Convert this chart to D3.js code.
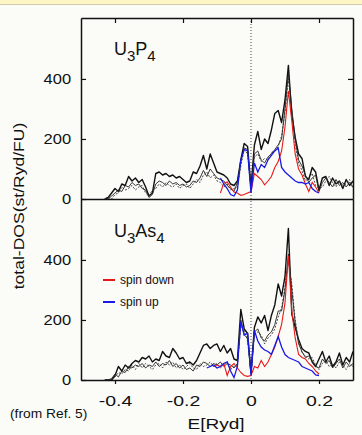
<!DOCTYPE html>
<html>
<head>
<meta charset="utf-8">
<script src="https://cdn.jsdelivr.net/npm/d3@7"></script>
<style>
  body { margin: 0; background: #fbfcf8; }
  svg { display: block; font-family: "Liberation Sans", Arial, Helvetica, sans-serif; }
</style>
</head>
<body>
<div id="chart"></div>
<script>
// energy grid (Ryd) for the total DOS curves
const energy = [-0.43,-0.42,-0.41,-0.40,-0.39,-0.38,-0.37,-0.36,-0.35,-0.34,
  -0.33,-0.32,-0.31,-0.30,-0.29,-0.28,-0.27,-0.26,-0.25,-0.24,
  -0.23,-0.22,-0.21,-0.20,-0.19,-0.18,-0.17,-0.16,-0.15,-0.14,
  -0.13,-0.12,-0.11,-0.10,-0.09,-0.08,-0.07,-0.06,-0.05,-0.04,
  -0.03,-0.02,-0.01,0.00,0.01,0.02,0.03,0.04,0.05,0.06,
  0.07,0.08,0.09,0.10,0.11,0.12,0.13,0.14,0.15,0.16,
  0.17,0.18,0.19,0.20,0.21,0.22,0.23,0.24,0.25,0.26,
  0.27,0.28,0.29,0.30];

// U3P4 totals (three black curves)
const p4TotalA = [0,5,20,35,25,50,45,75,60,70, 55,65,40,10,20,85,90,80,85,75,
  80,70,75,65,55,60,90,85,110,145, 100,150,120,90,85,80,70,50,45,60,
  130,185,175,40,180,225,165,200,185,230, 285,295,255,330,445,280,205,150,135,75,
  65,105,90,30,70,75,45,70,50,60, 35,65,45,60];
const p4TotalB = [0,0,10,20,30,25,45,40,55,45, 50,35,30,5,15,50,60,55,45,60,
  50,55,45,50,40,45,60,55,70,95, 75,100,85,70,65,60,45,35,25,55,
  125,170,165,35,150,160,130,120,140,150, 165,180,200,300,420,300,200,130,110,80,
  55,70,80,25,55,70,55,40,65,45, 55,40,55,40];
const p4TotalC = [0,5,0,15,20,40,30,35,45,30, 40,45,20,10,30,35,50,40,55,45,
  40,50,35,45,50,35,50,65,55,80, 90,70,80,60,55,40,50,30,35,40,
  110,165,150,30,140,150,125,135,130,155, 160,175,210,290,400,290,180,120,95,60,
  70,85,45,35,40,60,75,55,40,60, 45,50,65,35];

// U3As4 totals
const as4TotalA = [0,0,0,15,45,30,50,40,55,65, 60,75,70,80,60,70,65,95,80,75,
  105,90,70,75,55,60,50,65,90,115, 120,105,115,120,95,115,90,105,70,65,
  235,170,155,25,175,210,190,215,165,215, 250,320,280,345,505,220,175,135,105,95,
  90,60,45,70,95,60,80,45,60,90, 50,75,60,95];
const as4TotalB = [0,0,5,20,10,30,25,45,40,50, 45,55,40,50,45,60,45,55,50,65,
  45,55,40,50,35,40,30,50,45,60, 55,45,55,50,60,45,55,50,40,55,
  200,150,140,20,160,170,140,130,150,160, 185,230,230,300,420,300,190,120,95,75,
  80,65,45,40,70,55,65,40,55,70, 40,60,45,55];
const as4TotalC = [0,0,0,10,25,20,35,30,50,35, 55,40,55,45,35,50,55,40,60,50,
  60,40,50,35,45,55,40,35,55,45, 50,60,45,55,40,50,60,35,45,50,
  180,165,130,20,150,160,150,120,140,150, 170,210,240,310,400,320,200,130,90,80,
  70,75,50,35,55,65,45,55,40,60, 50,35,55,45];

// spin resolved curves
const p4SpinEnergy = [-0.09,-0.08,-0.07,-0.06,-0.05,-0.04,-0.03,-0.02,-0.01,0.00,
  0.01,0.02,0.03,0.04,0.05,0.06,0.07,0.08,0.09,0.10,
  0.11,0.12,0.13,0.14,0.15,0.16,0.17,0.18,0.19,0.20];
const p4SpinDown = [20,53,57,40,23,20,12,15,20,25, 85,75,65,47,60,75,105,125,160,240,
  360,260,150,100,80,50,25,55,40,20];
const p4SpinUp = [70,50,35,15,10,30,130,165,160,20, 120,90,115,105,130,145,160,170,105,90,
  80,70,60,55,55,50,55,35,25,20];

const as4SpinEnergy = [-0.13,-0.12,-0.11,-0.10,-0.09,-0.08,-0.07,-0.06,-0.05,-0.04,
  -0.03,-0.02,-0.01,0.00,0.01,0.02,0.03,0.04,0.05,0.06,
  0.07,0.08,0.09,0.10,0.11,0.12,0.13,0.14,0.15,0.16,
  0.17,0.18,0.19,0.20];
const as4SpinDown = [null,null,45,50,45,55,15,45,55,40, 25,15,12,15,45,40,65,45,60,85,
  110,145,185,257,415,230,140,85,75,70, 55,45,30,20];
const as4SpinUp = [40,45,50,40,45,55,60,30,8,45, 195,150,155,15,165,130,110,100,95,85,
  115,145,110,85,75,70,65,60,45,40, 35,30,17,15];

const xTicks = [-0.4, -0.2, 0, 0.2];
const yTicks = [0, 200, 400];

const width = 362, height = 435;
const plot = {left: 81, right: 353, top: 18, panelH: 181};

const svg = d3.select('#chart').append('svg')
  .attr('width', width)
  .attr('height', height);

// pale header strip of the page
svg.append('rect').attr('x', 0).attr('y', 0).attr('width', width).attr('height', 4)
  .attr('fill', '#fdf6c4');
svg.append('line').attr('x1', 0).attr('x2', width).attr('y1', 4.5).attr('y2', 4.5)
  .attr('stroke', '#cfcab0').attr('stroke-width', 1);

const x = d3.scaleLinear().domain([-0.5, 0.3]).range([plot.left, plot.right]);

const panels = [
  {top: plot.top, totals: [p4TotalA, p4TotalB, p4TotalC], spinE: p4SpinEnergy,
   down: p4SpinDown, up: p4SpinUp, label: ['U', '3', 'P', '4']},
  {top: plot.top + plot.panelH, totals: [as4TotalA, as4TotalB, as4TotalC], spinE: as4SpinEnergy,
   down: as4SpinDown, up: as4SpinUp, label: ['U', '3', 'As', '4']}
];

const totalStyles = [
  {w: 1.4, c: '#111', dash: null},
  {w: 0.9, c: '#222', dash: null},
  {w: 0.9, c: '#333', dash: '2,1.5'}
];

// dotted Fermi level line
svg.append('line')
  .attr('x1', x(0)).attr('x2', x(0))
  .attr('y1', plot.top).attr('y2', plot.top + 2 * plot.panelH)
  .attr('stroke', '#444').attr('stroke-width', 1).attr('stroke-dasharray', '1,2');

panels.forEach((p, pi) => {
  const y = d3.scaleLinear().domain([0, 603]).range([p.top + plot.panelH, p.top]);
  const g = svg.append('g');

  const line = d3.line()
    .defined(d => d.v != null)
    .x(d => x(d.e))
    .y(d => y(d.v));

  p.totals.forEach((arr, k) => {
    const s = totalStyles[k];
    g.append('path')
      .datum(energy.map((e, i) => ({e: e, v: arr[i]})))
      .attr('fill', 'none')
      .attr('stroke', s.c)
      .attr('stroke-width', s.w)
      .attr('stroke-dasharray', s.dash)
      .attr('stroke-linejoin', 'round')
      .attr('d', line);
  });

  g.append('path')
    .datum(p.spinE.map((e, i) => ({e: e, v: p.down[i]})))
    .attr('fill', 'none').attr('stroke', '#e81818').attr('stroke-width', 1.1)
    .attr('d', line);
  g.append('path')
    .datum(p.spinE.map((e, i) => ({e: e, v: p.up[i]})))
    .attr('fill', 'none').attr('stroke', '#1a1ae6').attr('stroke-width', 1.3)
    .attr('d', line);

  // left axis with labels
  const yl = svg.append('g')
    .attr('transform', `translate(${plot.left},0)`)
    .call(d3.axisLeft(y).tickValues(yTicks).tickSize(-5).tickSizeOuter(0).tickPadding(9));
  yl.selectAll('text')
    .attr('font-size', 15).attr('fill', '#111')
    .attr('font-family', '"Liberation Sans", Arial, sans-serif')
    .attr('transform', 'scale(1.1,1)');

  // right axis, ticks only
  svg.append('g')
    .attr('transform', `translate(${plot.right},0)`)
    .call(d3.axisRight(y).tickValues([200, 400]).tickSize(-5).tickSizeOuter(0).tickFormat(''));

  if (pi === 0) {
    svg.append('g')
      .attr('transform', `translate(0,${p.top})`)
      .call(d3.axisTop(x).tickValues(xTicks).tickSize(-5).tickSizeOuter(0).tickFormat(''));
    svg.append('g')
      .attr('transform', `translate(0,${p.top + plot.panelH})`)
      .call(d3.axisBottom(x).tickValues([]).tickSizeOuter(0));
  } else {
    const xb = svg.append('g')
      .attr('transform', `translate(0,${p.top + plot.panelH})`)
      .call(d3.axisBottom(x).tickValues(xTicks).tickSize(4).tickSizeOuter(0).tickPadding(11)
        .tickFormat(d => d === 0 ? '0' : String(d)));
    xb.selectAll('text')
      .attr('font-size', 15).attr('fill', '#111')
      .attr('font-family', '"Liberation Sans", Arial, sans-serif')
      .attr('transform', 'scale(1.3,1)');
  }

  // compound label with subscripts
  const t = svg.append('text')
    .attr('x', 114).attr('y', pi === 0 ? 55 : 237)
    .attr('font-size', 18).attr('fill', '#111');
  t.append('tspan').text(p.label[0]);
  t.append('tspan').attr('font-size', 15).attr('dy', 6).text(p.label[1]);
  t.append('tspan').attr('dy', -6).text(p.label[2]);
  t.append('tspan').attr('font-size', 15).attr('dy', 6).text(p.label[3]);
});

// axis and frame styling
svg.selectAll('.domain').attr('stroke', '#111').attr('stroke-width', 1.5);
svg.selectAll('.tick line').attr('stroke', '#111').attr('stroke-width', 1.2);

// legend
const legend = [
  {name: 'spin down', color: '#e81818', y: 280},
  {name: 'spin up', color: '#1a1ae6', y: 302}
];
legend.forEach(l => {
  svg.append('line').attr('x1', 103).attr('x2', 115).attr('y1', l.y).attr('y2', l.y)
    .attr('stroke', l.color).attr('stroke-width', 2);
  svg.append('text').attr('x', 120).attr('y', l.y + 4)
    .attr('font-size', 12).attr('fill', '#111').text(l.name);
});

// axis titles
svg.append('text')
  .attr('transform', 'translate(24,206) rotate(-90) scale(1.17,1)')
  .attr('text-anchor', 'middle').attr('font-size', 15).attr('fill', '#111')
  .text('total-DOS(st/Ryd/FU)');
svg.append('text')
  .attr('transform', 'translate(216,429) scale(1.27,1)')
  .attr('text-anchor', 'middle').attr('font-size', 15).attr('fill', '#111')
  .text('E[Ryd]');
svg.append('text')
  .attr('transform', 'translate(10,418) scale(1.15,1)')
  .attr('font-size', 12).attr('fill', '#111')
  .text('(from Ref. 5)');
</script>
</body>
</html>
